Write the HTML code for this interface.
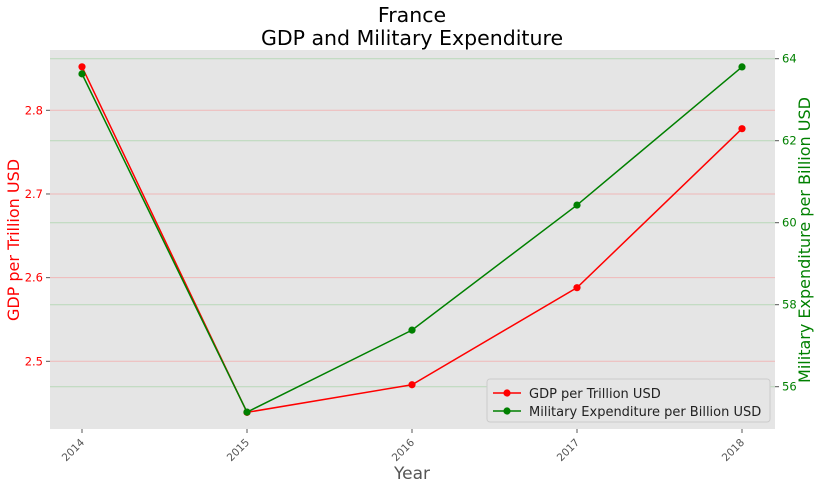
<!DOCTYPE html>
<html><head><meta charset="utf-8"><style>
body{margin:0;background:#fff;font-family:"DejaVu Sans","Liberation Sans",sans-serif;}
svg text{font-family:"DejaVu Sans","Liberation Sans",sans-serif;}
</style></head><body>
<svg id="c" width="820" height="488" xmlns="http://www.w3.org/2000/svg"></svg>
<script>
const years=[2014,2015,2016,2017,2018];
const gdp=[2.852,2.439,2.472,2.588,2.778];
const mil=[63.63,55.38,57.38,60.43,63.8];
const gdpTicks=[2.5,2.6,2.7,2.8];
const milTicks=[56,58,60,62,64];
const L=50,R=775,T=50,B=429;
const X=y=>82+(y-2014)*165;
const YL=v=>110.3+(2.8-v)*836.7;
const YR=m=>58.7+(64-m)*41;
const s=document.getElementById('c');
const NS='http://www.w3.org/2000/svg';
function el(t,a,p){const e=document.createElementNS(NS,t);for(const k in a)e.setAttribute(k,a[k]);(p||s).appendChild(e);return e;}
function tx(x,y,str,a,p){const e=el('text',Object.assign({x:x,y:y},a),p);e.textContent=str;return e;}
let bg=el('rect',{x:L,y:T,width:R-L,height:B-T,fill:'#e5e5e5'});


gdpTicks.forEach(v=>{const y=YL(v);
 let g=el('line',{x1:L,x2:R,y1:y,y2:y,stroke:'#f0b8b8','stroke-width':1});
 
 
 el('line',{x1:L-4,x2:L,y1:y,y2:y,stroke:'#555'});
 let t=tx(L-7,y+4,v.toFixed(1),{fill:'red','font-size':11.5,'text-anchor':'end'});
 
 
});
milTicks.forEach(v=>{const y=YR(v);
 let g=el('line',{x1:L,x2:R,y1:y,y2:y,stroke:'#b8d8b8','stroke-width':1});
 
 
 el('line',{x1:R,x2:R+4,y1:y,y2:y,stroke:'#555'});
 let t=tx(R+7,y+4,String(v),{fill:'green','font-size':11.5});
 
 
});
years.forEach(yr=>{const x=X(yr);
 el('line',{x1:x,x2:x,y1:B,y2:B+4,stroke:'#555'});
 let t=tx(x+3,B+14,String(yr),{fill:'#555','font-size':10.5,'text-anchor':'end',transform:`rotate(-45 ${x+3} ${B+14})`});
 
 
});
function series(vals,f,col,name){
 let p=el('polyline',{points:vals.map((v,i)=>X(years[i])+','+f(v)).join(' '),fill:'none',stroke:col,'stroke-width':1.5});
 
 
 vals.forEach((v,i)=>{let c=el('circle',{cx:X(years[i]),cy:f(v),r:3.6,fill:col});
  
  });
}
series(gdp,YL,'red','gdp');
series(mil,YR,'green','military');
let t1=tx(412,22,'France',{'font-size':20.5,'text-anchor':'middle',fill:'#000'});


let t2=tx(412,45,'GDP and Military Expenditure',{'font-size':20.5,'text-anchor':'middle',fill:'#000'});


let xl=tx(412,479,'Year',{'font-size':17,'text-anchor':'middle',fill:'#555'});


let yl=tx(19,240,'GDP per Trillion USD',{'font-size':16,'text-anchor':'middle',fill:'red',transform:'rotate(-90 19 240)'});


let yr=tx(810,240,'Military Expenditure per Billion USD',{'font-size':16,'text-anchor':'middle',fill:'green',transform:'rotate(-90 810 240)'});


const lg=el('g',{});


el('rect',{x:487,y:379,width:283,height:43,rx:3,fill:'#e5e5e5',stroke:'#ccc'},lg);
[['red','GDP per Trillion USD',393],['green','Military Expenditure per Billion USD',411]].forEach(([c,n,y])=>{
 const g=el('g',{},lg);
 
 
 el('line',{x1:493,x2:521,y1:y,y2:y,stroke:c,'stroke-width':1.5},g);
 el('circle',{cx:507,cy:y,r:3.6,fill:c},g);
 tx(529,y+5,n,{'font-size':13,fill:'#222'},g);
});
</script>
</body></html>
